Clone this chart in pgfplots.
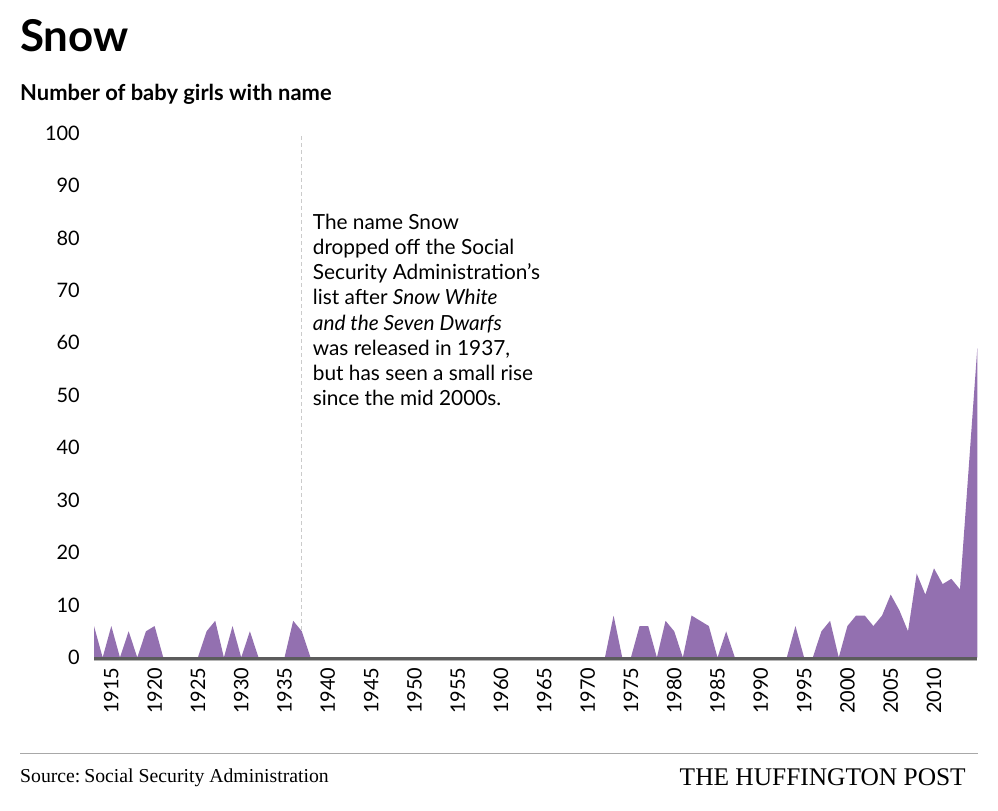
\documentclass[border=0pt]{standalone}
\usepackage{fontspec}
\setmainfont{Lato}
\newfontfamily\seriffont{Liberation Serif}
\usepackage{pgfplots}
\pgfplotsset{compat=1.18}
\usepackage{pgfplotstable}

\definecolor{snowfill}{HTML}{9370B0}
\definecolor{axisdark}{HTML}{5C5C5C}
\definecolor{axislight}{HTML}{B5B5B5}
\definecolor{rulegray}{HTML}{A8A8A8}

% Baby girls named Snow per year
\pgfplotstableread{
year count
1913 6
1914 0
1915 6
1916 0
1917 5
1918 0
1919 5
1920 6
1921 0
1922 0
1923 0
1924 0
1925 0
1926 5
1927 7
1928 0
1929 6
1930 0
1931 5
1932 0
1933 0
1934 0
1935 0
1936 7
1937 5
1938 0
1972 0
1973 8
1974 0
1975 0
1976 6
1977 6
1978 0
1979 7
1980 5
1981 0
1982 8
1983 7
1984 6
1985 0
1986 5
1987 0
1993 0
1994 6
1995 0
1996 0
1997 5
1998 7
1999 0
2000 6
2001 8
2002 8
2003 6
2004 8
2005 12
2006 9
2007 5
2008 16
2009 12
2010 17
2011 14
2012 15
2013 13
2014 36
2015 59
}\snowdata

\begin{document}
\begin{tikzpicture}
\useasboundingbox (0bp,0bp) rectangle (998bp,-811bp);

% Title block
\node[anchor=base west, inner sep=0pt, font=\fontsize{44}{44}\selectfont\bfseries] at (20bp,-51.7bp) {Snow};
\node[anchor=base west, inner sep=0pt, font=\fontsize{22}{22}\selectfont\bfseries] at (20bp,-100bp) {Number of baby girls with name};

\begin{axis}[
  at={(94bp,-657.5bp)}, anchor=south west,
  scale only axis, width=883.3bp, height=524.5bp,
  xmin=1913, xmax=2015, ymin=0, ymax=100,
  axis line style={draw=none},
  major tick length=0pt,
  ytick={0,10,...,100},
  xtick={1915,1920,...,2010},
  /pgf/number format/assume math mode=true,
  /pgf/number format/1000 sep={},
  yticklabel style={font=\fontsize{20}{20}\selectfont, inner sep=0pt, anchor=east, xshift=-14bp},
  xticklabel style={font=\fontsize{20}{20}\selectfont, inner sep=0pt, rotate=90, anchor=east},
  xticklabel shift=10bp,
  clip=false,
]
% Release year of the film
\draw[axislight!70, line width=0.8bp, dash pattern=on 4bp off 3bp]
  (axis cs:1937,0) -- (axis cs:1937,100);

\addplot[fill=snowfill, draw=none] table[x=year, y=count] {\snowdata} \closedcycle;

% Baseline
\draw[axislight, line width=1.5bp, yshift=-2.8bp] (axis cs:1913,0) -- (axis cs:2015,0);
\draw[axisdark, line width=3bp, yshift=-0.8bp] (axis cs:1913,0) -- (axis cs:2015,0);

\node[anchor=north west, inner sep=0pt, align=left,
      font=\fontsize{20.9}{25.3}\selectfont] at (axis cs:1938.25,84.6) {%
The name Snow\\
dropped off the Social\\
Security Administration’s\\
list after \textit{Snow White}\\
\textit{and the Seven Dwarfs}\\
was released in 1937,\\
but has seen a small rise\\
since the mid 2000s.};
\end{axis}

% Footer
\draw[rulegray, line width=1bp] (20bp,-753bp) -- (978bp,-753bp);
\node[anchor=base west, inner sep=0pt, font=\seriffont\fontsize{19.8}{19.8}\selectfont] at (20bp,-782bp) {Source:\hspace{0.2em}Social Security Administration};
\node[anchor=base east, inner sep=0pt, font=\seriffont\fontsize{25.5}{25.5}\selectfont] at (966bp,-785bp) {THE HUFFINGTON POST};
\end{tikzpicture}
\end{document}
